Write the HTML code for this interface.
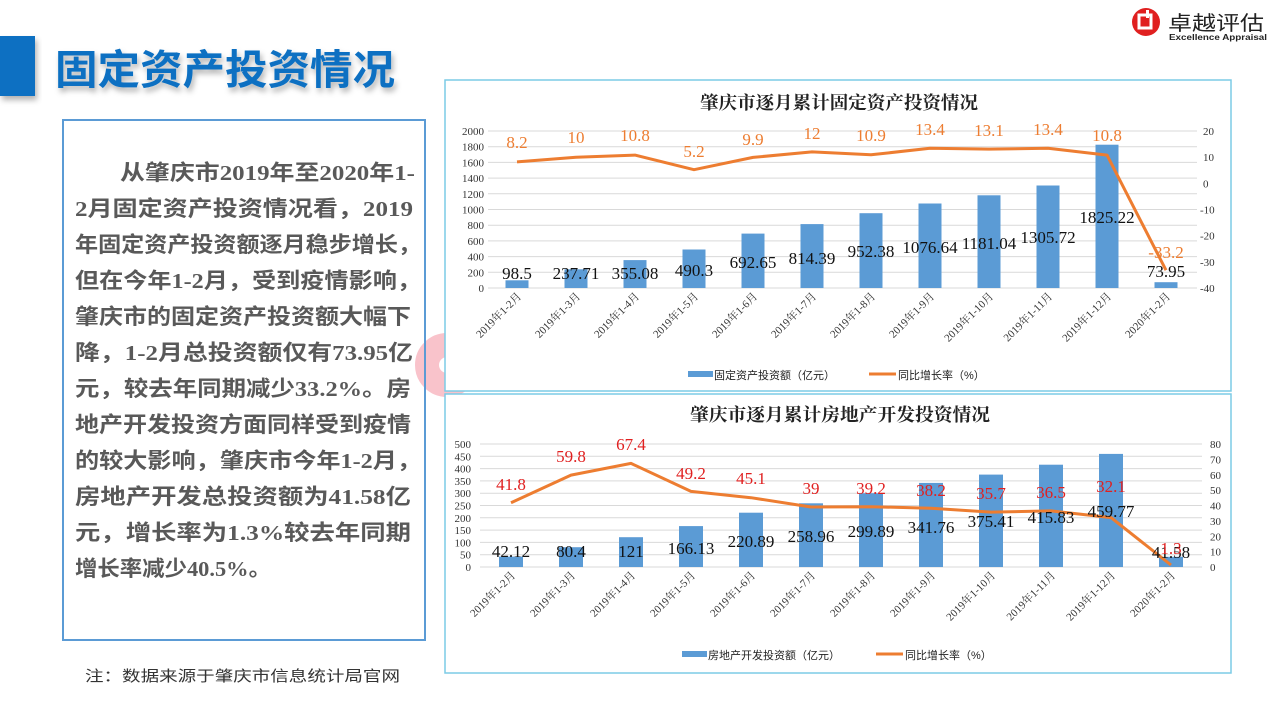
<!DOCTYPE html>
<html><head><meta charset="utf-8">
<style>
html,body{margin:0;padding:0;background:#fff;}
svg{display:block;}
.s{font-family:"Liberation Serif","Noto Serif CJK SC",serif;}
.ss{font-family:"Liberation Sans","Noto Sans CJK SC",sans-serif;}
</style></head><body>
<svg width="1280" height="720" viewBox="0 0 1280 720" xmlns="http://www.w3.org/2000/svg">
<defs>
<filter id="sh" x="-10%" y="-10%" width="130%" height="140%"><feDropShadow dx="2" dy="4" stdDeviation="3" flood-color="#000" flood-opacity="0.3"/></filter>
</defs>
<rect width="1280" height="720" fill="#fff"/>
<!-- title -->
<rect x="0" y="36" width="35" height="60" fill="#0a6fc2" filter="url(#sh)"/>
<text x="55" y="84" class="ss" font-size="41" font-weight="bold" fill="#0a6fc2" filter="url(#sh)" textLength="340" lengthAdjust="spacingAndGlyphs">固定资产投资情况</text>
<!-- logo -->
<circle cx="1146" cy="22" r="14" fill="#e02020"/>
<rect x="1139" y="15" width="12" height="13" fill="none" stroke="#fff" stroke-width="3"/>
<rect x="1146" y="10" width="3" height="8" fill="#fff"/>
<text x="1168" y="30" class="ss" font-size="20" fill="#222" textLength="96" lengthAdjust="spacingAndGlyphs">卓越评估</text>
<text x="1169" y="40" class="ss" font-size="8.5" font-weight="bold" fill="#222" textLength="98" lengthAdjust="spacingAndGlyphs">Excellence Appraisal</text>
<!-- pink ring -->
<circle cx="447" cy="365" r="20" fill="none" stroke="#f9c3cb" stroke-width="24"/>
<!-- text box -->
<rect x="63" y="120" width="362" height="520" fill="none" stroke="#5b9bd5" stroke-width="2"/>
<g class="ss" font-size="21.5" font-weight="bold" fill="#595959">
<text x="120" y="180" textLength="295" lengthAdjust="spacingAndGlyphs">从肇庆市<tspan class="s">2019</tspan>年至<tspan class="s">2020</tspan>年<tspan class="s">1-</tspan></text>
<text x="75" y="216" textLength="338" lengthAdjust="spacingAndGlyphs"><tspan class="s">2</tspan>月固定资产投资情况看，<tspan class="s">2019</tspan></text>
<text x="75" y="252" textLength="346" lengthAdjust="spacingAndGlyphs">年固定资产投资额逐月稳步增长，</text>
<text x="75" y="288" textLength="346" lengthAdjust="spacingAndGlyphs">但在今年<tspan class="s">1-2</tspan>月，受到疫情影响，</text>
<text x="75" y="324" textLength="336" lengthAdjust="spacingAndGlyphs">肇庆市的固定资产投资额大幅下</text>
<text x="75" y="360" textLength="338" lengthAdjust="spacingAndGlyphs">降，<tspan class="s">1-2</tspan>月总投资额仅有<tspan class="s">73.95</tspan>亿</text>
<text x="75" y="396" textLength="336" lengthAdjust="spacingAndGlyphs">元，较去年同期减少<tspan class="s">33.2%</tspan>。房</text>
<text x="75" y="432" textLength="336" lengthAdjust="spacingAndGlyphs">地产开发投资方面同样受到疫情</text>
<text x="75" y="468" textLength="346" lengthAdjust="spacingAndGlyphs">的较大影响，肇庆市今年<tspan class="s">1-2</tspan>月，</text>
<text x="75" y="504" textLength="336" lengthAdjust="spacingAndGlyphs">房地产开发总投资额为<tspan class="s">41.58</tspan>亿</text>
<text x="75" y="540" textLength="336" lengthAdjust="spacingAndGlyphs">元，增长率为<tspan class="s">1.3%</tspan>较去年同期</text>
<text x="75" y="576" textLength="196" lengthAdjust="spacingAndGlyphs">增长率减少<tspan class="s">40.5%</tspan>。</text>
</g>
<text x="85" y="681" class="ss" font-size="15" fill="#333" textLength="315" lengthAdjust="spacingAndGlyphs">注：数据来源于肇庆市信息统计局官网</text>

<!-- CHART 1 -->
<rect x="445" y="80" width="786" height="311" fill="#fff" stroke="#7ccbe6" stroke-width="1.5"/>
<text x="700" y="109" class="s" font-size="18" font-weight="bold" fill="#222" textLength="278" lengthAdjust="spacingAndGlyphs">肇庆市逐月累计固定资产投资情况</text>
<g stroke="#d9d9d9" stroke-width="1">
<line x1="488" x2="1197" y1="131" y2="131"/><line x1="488" x2="1197" y1="146.7" y2="146.7"/><line x1="488" x2="1197" y1="162.4" y2="162.4"/><line x1="488" x2="1197" y1="178.1" y2="178.1"/><line x1="488" x2="1197" y1="193.8" y2="193.8"/><line x1="488" x2="1197" y1="209.5" y2="209.5"/><line x1="488" x2="1197" y1="225.2" y2="225.2"/><line x1="488" x2="1197" y1="240.9" y2="240.9"/><line x1="488" x2="1197" y1="256.6" y2="256.6"/><line x1="488" x2="1197" y1="272.3" y2="272.3"/><line x1="488" x2="1197" y1="288" y2="288"/>
</g>
<g class="s" font-size="11" fill="#333" text-anchor="end">
<text x="484" y="135">2000</text><text x="484" y="150.7">1800</text><text x="484" y="166.4">1600</text><text x="484" y="182.1">1400</text><text x="484" y="197.8">1200</text><text x="484" y="213.5">1000</text><text x="484" y="229.2">800</text><text x="484" y="244.9">600</text><text x="484" y="260.6">400</text><text x="484" y="276.3">200</text><text x="484" y="292">0</text>
</g>
<g class="s" font-size="11" fill="#333">
<text x="1203" y="135">20</text><text x="1203" y="161.2">10</text><text x="1203" y="187.3">0</text><text x="1200" y="213.5">-10</text><text x="1200" y="239.7">-20</text><text x="1200" y="265.8">-30</text><text x="1200" y="292">-40</text>
</g>
<g fill="#5b9bd5">
<rect x="505.5" y="280.3" width="23" height="7.7"/><rect x="564.5" y="269.3" width="23" height="18.7"/><rect x="623.5" y="260.1" width="23" height="27.9"/><rect x="682.5" y="249.5" width="23" height="38.5"/><rect x="741.5" y="233.6" width="23" height="54.4"/><rect x="800.5" y="224.1" width="23" height="63.9"/><rect x="859.5" y="213.2" width="23" height="74.8"/><rect x="918.5" y="203.5" width="23" height="84.5"/><rect x="977.5" y="195.3" width="23" height="92.7"/><rect x="1036.5" y="185.5" width="23" height="102.5"/><rect x="1095.5" y="144.7" width="23" height="143.3"/><rect x="1154.5" y="282.2" width="23" height="5.8"/>
</g>
<polyline fill="none" stroke="#ed7d31" stroke-width="3" stroke-linejoin="round" points="517,161.9 576,157.2 635,155.1 694,169.7 753,157.4 812,151.9 871,154.8 930,148.3 989,149.1 1048,148.3 1107,155.1 1166,270.2"/>
<g class="s" font-size="17" fill="#111" text-anchor="middle">
<text x="517" y="279">98.5</text><text x="576" y="279">237.71</text><text x="635" y="279">355.08</text><text x="694" y="276">490.3</text><text x="753" y="268">692.65</text><text x="812" y="264">814.39</text><text x="871" y="257">952.38</text><text x="930" y="253">1076.64</text><text x="989" y="249">1181.04</text><text x="1048" y="243">1305.72</text><text x="1107" y="223">1825.22</text><text x="1166" y="277">73.95</text>
</g>
<g class="s" font-size="17" fill="#ed7d31" text-anchor="middle">
<text x="517" y="148">8.2</text><text x="576" y="143">10</text><text x="635" y="141">10.8</text><text x="694" y="157">5.2</text><text x="753" y="145">9.9</text><text x="812" y="139">12</text><text x="871" y="141">10.9</text><text x="930" y="135">13.4</text><text x="989" y="136">13.1</text><text x="1048" y="135">13.4</text><text x="1107" y="141">10.8</text><text x="1166" y="258">-33.2</text>
</g>
<g class="s" font-size="11" fill="#333" text-anchor="end">
<text transform="translate(522,297) rotate(-45)">2019年1-2月</text><text transform="translate(581,297) rotate(-45)">2019年1-3月</text><text transform="translate(640,297) rotate(-45)">2019年1-4月</text><text transform="translate(699,297) rotate(-45)">2019年1-5月</text><text transform="translate(758,297) rotate(-45)">2019年1-6月</text><text transform="translate(817,297) rotate(-45)">2019年1-7月</text><text transform="translate(876,297) rotate(-45)">2019年1-8月</text><text transform="translate(935,297) rotate(-45)">2019年1-9月</text><text transform="translate(994,297) rotate(-45)">2019年1-10月</text><text transform="translate(1053,297) rotate(-45)">2019年1-11月</text><text transform="translate(1112,297) rotate(-45)">2019年1-12月</text><text transform="translate(1171,297) rotate(-45)">2020年1-2月</text>
</g>
<rect x="688" y="371" width="25" height="6" fill="#5b9bd5"/>
<text x="714" y="379" class="ss" font-size="11" fill="#222">固定资产投资额（亿元）</text>
<line x1="869" x2="896" y1="374" y2="374" stroke="#ed7d31" stroke-width="3"/>
<text x="898" y="379" class="ss" font-size="11" fill="#222">同比增长率（%）</text>

<!-- CHART 2 -->
<rect x="445" y="394" width="786" height="279" fill="#fff" stroke="#7ccbe6" stroke-width="1.5"/>
<text x="690" y="421" class="s" font-size="18" font-weight="bold" fill="#222" textLength="300" lengthAdjust="spacingAndGlyphs">肇庆市逐月累计房地产开发投资情况</text>
<g stroke="#d9d9d9" stroke-width="1">
<line x1="480" x2="1202" y1="444" y2="444"/><line x1="480" x2="1202" y1="456.3" y2="456.3"/><line x1="480" x2="1202" y1="468.6" y2="468.6"/><line x1="480" x2="1202" y1="480.9" y2="480.9"/><line x1="480" x2="1202" y1="493.2" y2="493.2"/><line x1="480" x2="1202" y1="505.5" y2="505.5"/><line x1="480" x2="1202" y1="517.8" y2="517.8"/><line x1="480" x2="1202" y1="530.1" y2="530.1"/><line x1="480" x2="1202" y1="542.4" y2="542.4"/><line x1="480" x2="1202" y1="554.7" y2="554.7"/><line x1="480" x2="1202" y1="567" y2="567"/>
</g>
<g class="s" font-size="11" fill="#333" text-anchor="end">
<text x="471" y="448">500</text><text x="471" y="460.3">450</text><text x="471" y="472.6">400</text><text x="471" y="484.9">350</text><text x="471" y="497.2">300</text><text x="471" y="509.5">250</text><text x="471" y="521.8">200</text><text x="471" y="534.1">150</text><text x="471" y="546.4">100</text><text x="471" y="558.7">50</text><text x="471" y="571">0</text>
</g>
<g class="s" font-size="11" fill="#333">
<text x="1210" y="448">80</text><text x="1210" y="463.4">70</text><text x="1210" y="478.8">60</text><text x="1210" y="494.1">50</text><text x="1210" y="509.5">40</text><text x="1210" y="524.9">30</text><text x="1210" y="540.3">20</text><text x="1210" y="555.6">10</text><text x="1210" y="571">0</text>
</g>
<g fill="#5b9bd5">
<rect x="499" y="556.6" width="24" height="10.4"/><rect x="559" y="547.2" width="24" height="19.8"/><rect x="619" y="537.2" width="24" height="29.8"/><rect x="679" y="526.1" width="24" height="40.9"/><rect x="739" y="512.7" width="24" height="54.3"/><rect x="799" y="503.3" width="24" height="63.7"/><rect x="859" y="493.2" width="24" height="73.8"/><rect x="919" y="482.9" width="24" height="84.1"/><rect x="979" y="474.6" width="24" height="92.4"/><rect x="1039" y="464.7" width="24" height="102.3"/><rect x="1099" y="453.9" width="24" height="113.1"/><rect x="1159" y="556.8" width="24" height="10.2"/>
</g>
<polyline fill="none" stroke="#ed7d31" stroke-width="3" stroke-linejoin="round" points="511,502.7 571,475.1 631,463.4 691,491.4 751,497.7 811,507 871,506.7 931,508.3 991,512.1 1051,510.9 1111,517.6 1171,565"/>
<g class="s" font-size="17" fill="#111" text-anchor="middle">
<text x="511" y="557">42.12</text><text x="571" y="557">80.4</text><text x="631" y="557">121</text><text x="691" y="554">166.13</text><text x="751" y="547">220.89</text><text x="811" y="542">258.96</text><text x="871" y="537">299.89</text><text x="931" y="533">341.76</text><text x="991" y="527">375.41</text><text x="1051" y="523">415.83</text><text x="1111" y="517">459.77</text><text x="1171" y="558">41.58</text>
</g>
<g class="s" font-size="17" fill="#e02020" text-anchor="middle">
<text x="511" y="490">41.8</text><text x="571" y="462">59.8</text><text x="631" y="450">67.4</text><text x="691" y="479">49.2</text><text x="751" y="484">45.1</text><text x="811" y="494">39</text><text x="871" y="494">39.2</text><text x="931" y="496">38.2</text><text x="991" y="499">35.7</text><text x="1051" y="498">36.5</text><text x="1111" y="492">32.1</text><text x="1171" y="554">1.3</text>
</g>
<g class="s" font-size="11" fill="#333" text-anchor="end">
<text transform="translate(516,576) rotate(-45)">2019年1-2月</text><text transform="translate(576,576) rotate(-45)">2019年1-3月</text><text transform="translate(636,576) rotate(-45)">2019年1-4月</text><text transform="translate(696,576) rotate(-45)">2019年1-5月</text><text transform="translate(756,576) rotate(-45)">2019年1-6月</text><text transform="translate(816,576) rotate(-45)">2019年1-7月</text><text transform="translate(876,576) rotate(-45)">2019年1-8月</text><text transform="translate(936,576) rotate(-45)">2019年1-9月</text><text transform="translate(996,576) rotate(-45)">2019年1-10月</text><text transform="translate(1056,576) rotate(-45)">2019年1-11月</text><text transform="translate(1116,576) rotate(-45)">2019年1-12月</text><text transform="translate(1176,576) rotate(-45)">2020年1-2月</text>
</g>
<rect x="682" y="651" width="25" height="6" fill="#5b9bd5"/>
<text x="708" y="659" class="ss" font-size="11" fill="#222">房地产开发投资额（亿元）</text>
<line x1="876" x2="903" y1="654" y2="654" stroke="#ed7d31" stroke-width="3"/>
<text x="905" y="659" class="ss" font-size="11" fill="#222">同比增长率（%）</text>
</svg>
</body></html>
